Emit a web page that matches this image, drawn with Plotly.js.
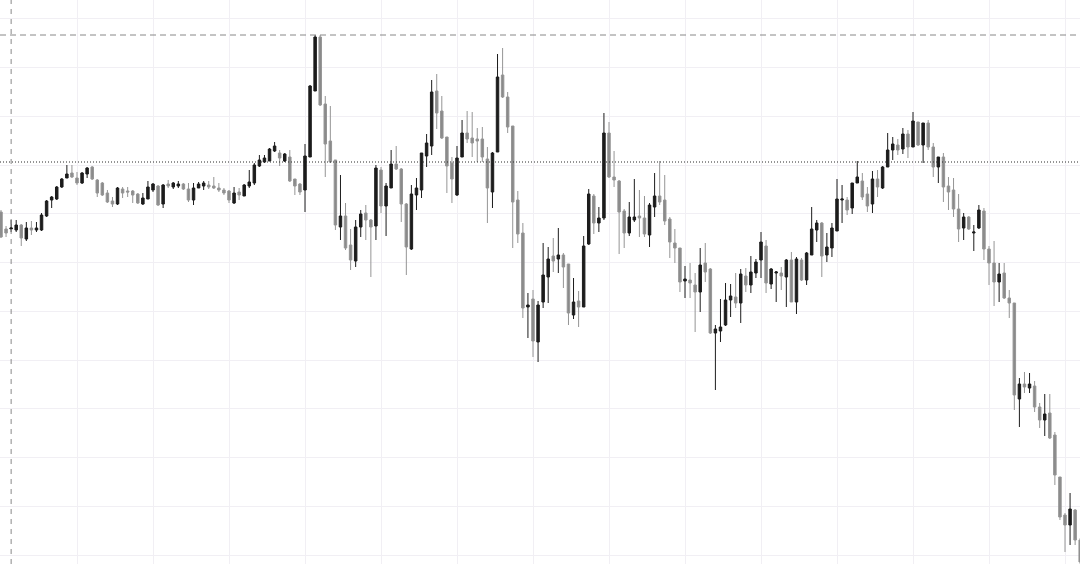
<!DOCTYPE html>
<html>
<head>
<meta charset="utf-8">
<script src="https://cdn.plot.ly/plotly-3.0.1.min.js"></script>
<style>
html,body{margin:0;padding:0;background:#ffffff;}
#chart{width:1080px;height:564px;}
</style>
</head>
<body>
<div id="chart"></div>
<script>
// OHLC values (one candle per period)
const openP = [
352,335,335,334,339,325,336,334,334,348,
364,365,377,386,391,386,381,390,397,384,
381,371,363,360,375,373,373,370,360,365,
374,378,360,380,377,378,380,375,364,376,
378,379,378,376,374,373,361,372,368,378,
381,398,402,403,413,411,403,407,385,380,
374,407,473,527,460,423,404,337,348,319,
303,337,351,344,338,394,358,376,400,395,
360,315,369,374,408,418,473,453,427,401,
369,407,431,426,425,425,405,372,412,489,
467,438,364,331,257,265,222,262,287,308,
305,309,300,249,263,257,320,368,341,346,
431,387,383,353,331,344,348,346,329,357,
368,364,345,321,316,283,284,279,272,301,
295,231,233,239,264,267,261,288,279,291,
304,318,280,291,291,287,304,262,304,284,
309,334,341,309,316,333,364,364,356,381,
383,370,360,385,376,397,414,419,415,430,
417,442,419,441,417,397,407,378,374,355,
336,347,331,336,353,315,301,282,291,266,
261,165,180,176,178,157,144,151,129,87,
49,39,54,24
];
const highP = [
354,338,344,344,340,342,343,342,351,364,
368,378,386,399,399,392,392,397,398,385,
382,374,367,377,377,377,374,371,371,383,
381,379,380,384,382,383,381,381,381,382,
383,383,387,381,376,374,377,376,380,394,
401,409,409,416,422,414,411,414,385,381,
420,479,529,529,468,458,404,389,361,335,
344,354,359,345,399,397,381,414,418,396,
361,379,386,411,430,484,490,468,427,407,
418,444,453,452,436,437,417,412,510,516,
472,438,373,341,271,274,263,321,317,326,
336,311,300,286,273,328,375,370,357,451,
442,413,384,355,362,385,374,368,361,391,
403,389,347,335,316,298,301,291,316,321,
296,239,265,281,280,291,295,296,308,305,
332,324,296,293,297,305,312,307,306,312,
357,344,342,331,341,385,379,367,381,403,
391,377,393,394,398,431,427,425,436,434,
452,442,441,444,421,407,411,387,386,370,
351,348,339,359,356,318,323,301,301,274,
261,186,192,191,183,161,170,170,132,87,
51,71,55,26
];
const lowP = [
326,327,332,332,318,323,329,332,333,347,
356,364,376,386,386,379,380,386,384,367,
368,361,357,359,366,367,361,360,359,365,
372,358,356,376,375,376,374,362,359,376,
374,375,375,372,369,361,360,364,368,376,
379,397,401,403,412,398,402,382,369,369,
352,407,473,458,387,401,334,324,314,294,
297,327,324,287,324,351,328,376,394,342,
289,314,354,366,397,409,435,425,371,361,
368,407,421,407,402,402,341,356,412,466,
431,316,321,246,226,207,202,256,261,292,
291,276,239,245,237,257,319,330,332,344,
386,377,310,316,328,342,327,327,317,347,
359,339,306,301,272,266,266,232,252,282,
230,174,222,238,247,256,241,272,271,286,
286,271,275,262,274,257,262,250,283,279,
309,322,287,302,307,333,341,349,350,381,
364,352,351,367,375,397,404,409,410,406,
417,418,401,414,387,381,362,354,347,322,
324,334,313,335,304,279,258,262,265,246,
154,137,171,171,152,136,128,125,79,44,
12,19,19,-6
];
const closeP = [
327,331,336,339,326,336,334,336,349,363,
367,377,385,390,387,381,391,396,385,371,
369,362,360,376,371,372,369,361,366,377,
380,359,379,378,381,380,375,364,376,380,
381,377,376,374,371,364,371,369,379,382,
399,404,406,415,418,406,410,383,378,372,
408,478,527,459,420,402,339,348,316,304,
337,350,344,337,396,358,378,400,395,360,
317,370,376,411,421,472,451,426,398,385,
406,431,425,421,423,407,376,411,487,467,
437,362,330,256,259,223,259,289,305,303,
309,297,251,262,257,318,370,341,346,431,
387,384,352,331,347,347,346,330,359,368,
362,343,322,316,282,285,281,272,299,292,
231,235,237,264,268,261,290,279,292,302,
322,281,295,292,288,304,262,305,284,311,
335,341,308,317,336,365,365,354,381,387,
367,358,385,377,397,414,420,414,430,417,
443,419,441,417,397,407,377,372,355,335,
347,335,332,354,315,301,282,290,266,261,
169,180,177,180,157,144,150,126,89,47,
39,55,24,2
];
const periods = openP.map((_, i) => i);

// crosshair and reference price line
const crossIndex = 2;
const crossPrice = 529;
const refPrice = 402;

const trace = {
  type: 'candlestick',
  x: periods,
  open: openP,
  high: highP,
  low: lowP,
  close: closeP,
  increasing: {line: {color: '#1c1c1c', width: 1}, fillcolor: '#1c1c1c'},
  decreasing: {line: {color: '#959595', width: 1}, fillcolor: '#8a8a8a'},
  whiskerwidth: 0,
  hoverinfo: 'none'
};

const layout = {
  width: 1080,
  height: 564,
  margin: {l: 0, r: 0, t: 0, b: 0, pad: 0},
  paper_bgcolor: '#ffffff',
  plot_bgcolor: '#ffffff',
  showlegend: false,
  xaxis: {
    range: [-0.197, 212.96],
    tick0: 0, dtick: 15,
    showgrid: true, gridcolor: '#f1eff4', gridwidth: 1,
    showticklabels: false, zeroline: false, showline: false, ticks: '',
    rangeslider: {visible: false},
    fixedrange: true
  },
  yaxis: {
    range: [0, 564],
    tick0: 9, dtick: 48.73,
    showgrid: true, gridcolor: '#f1eff4', gridwidth: 1,
    showticklabels: false, zeroline: false, showline: false, ticks: '',
    fixedrange: true
  },
  shapes: [
    {type: 'line', xref: 'paper', x0: 0, x1: 1, yref: 'y', y0: refPrice, y1: refPrice,
     line: {color: '#2a2a2a', width: 1, dash: '1px,2px'}},
    {type: 'line', xref: 'paper', x0: 0, x1: 1, yref: 'y', y0: crossPrice, y1: crossPrice,
     line: {color: '#888888', width: 1, dash: '6px,4px'}},
    {type: 'line', xref: 'x', x0: crossIndex, x1: crossIndex, yref: 'paper', y0: 0, y1: 1,
     line: {color: '#888888', width: 1, dash: '5px,5px'}}
  ]
};

Plotly.newPlot('chart', [trace], layout, {staticPlot: true, displayModeBar: false});
</script>
</body>
</html>
